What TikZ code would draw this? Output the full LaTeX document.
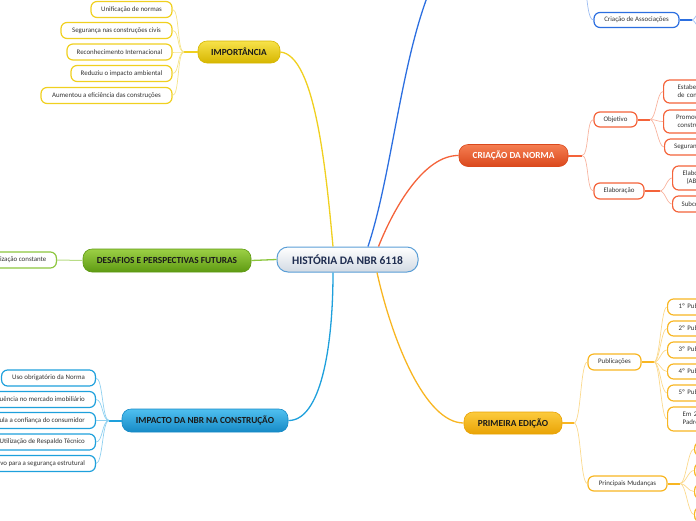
\documentclass[tikz,border=0pt]{standalone}
\usepackage{fontspec}
\setmainfont{Carlito}
\definecolor{yelm}{HTML}{F0D020}
\definecolor{yelt}{HTML}{F5E48A}
\definecolor{yeltop}{HTML}{F7E24A}
\definecolor{yelbot}{HTML}{D6B600}
\definecolor{ornm}{HTML}{F4633A}
\definecolor{ornt}{HTML}{F8B4A0}
\definecolor{orntop}{HTML}{F57E52}
\definecolor{ornbot}{HTML}{DA481C}
\definecolor{ambm}{HTML}{F8B622}
\definecolor{ambt}{HTML}{FBD98C}
\definecolor{ambtop}{HTML}{FCCB3E}
\definecolor{ambbot}{HTML}{E9A305}
\definecolor{grnm}{HTML}{8CC63E}
\definecolor{grnt}{HTML}{B8DC86}
\definecolor{grntop}{HTML}{9CD046}
\definecolor{grnbot}{HTML}{5E9A12}
\definecolor{impm}{HTML}{1EA0DC}
\definecolor{impt}{HTML}{8ED0F0}
\definecolor{imptop}{HTML}{50C0F0}
\definecolor{impbot}{HTML}{168AC6}
\definecolor{blum}{HTML}{2C6FE0}
\definecolor{blut}{HTML}{9DBDF2}
\definecolor{rootb}{HTML}{5A9ED6}
\definecolor{rootbot}{HTML}{D2DAE3}
\definecolor{roottxt}{HTML}{1F2D50}
\definecolor{leaftxt}{HTML}{333333}
\definecolor{toptxt}{HTML}{1A1A1A}
\tikzset{
  topic/.style={draw, rounded corners=9pt, line width=0.6pt, inner sep=0pt,
    minimum height=22pt, font=\fontsize{9.3}{11}\selectfont\bfseries, text=toptxt},
  leaf/.style={draw, fill=white, rounded corners=6pt, line width=1.2pt, inner xsep=0pt,
    inner ysep=0pt, minimum height=16pt, font=\fontsize{6.9}{8}\selectfont, text=leaftxt, align=center},
  cutleaf/.style={leaf, anchor=west, text width=90pt, align=left},
  stub/.style={line width=2pt},
  thin/.style={line width=0.7pt},
  mainline/.style={line width=1.3pt},
}
\begin{document}
\begin{tikzpicture}[x=1pt,y=-1pt]
\useasboundingbox (0,0) rectangle (696,520);
\clip (0,0) rectangle (696,520);

% ---------- root ----------
\node[draw=rootb, line width=1pt, rounded corners=11pt, top color=white, bottom color=rootbot,
  minimum width=141pt, minimum height=25pt, inner sep=0pt,
  font=\fontsize{11.5}{13}\selectfont\bfseries, text=roottxt] (root) at (347.5,259.5) {HISTÓRIA DA NBR 6118};

% ---------- topics ----------
\node[topic, draw=yelbot, top color=yeltop, bottom color=yelbot, minimum width=82pt] (imp) at (239,52) {IMPORTÂNCIA};
\node[topic, draw=ornbot, top color=orntop, bottom color=ornbot, minimum width=109pt, text=white] (cri) at (513.5,155.5) {CRIAÇÃO DA NORMA};
\node[topic, draw=ambbot, top color=ambtop, bottom color=ambbot, minimum width=98pt] (pri) at (513,423) {PRIMEIRA EDIÇÃO};
\node[topic, draw=grnbot, top color=grntop, bottom color=grnbot, minimum width=168pt, minimum height=23pt] (des) at (167,260.5) {DESAFIOS E PERSPECTIVAS FUTURAS};
\node[topic, draw=impbot, top color=imptop, bottom color=impbot, minimum width=166pt, minimum height=23pt] (ipc) at (205,420.5) {IMPACTO DA NBR NA CONSTRUÇÃO};
\coordinate (topblue) at (470,-70);

% ---------- main connectors ----------
\draw[mainline, yelm] (imp.east) .. controls (315,55) and (326,170) .. ([xshift=-14.5pt]root.north);
\draw[mainline, blum] ([xshift=20.5pt]root.north) .. controls (400,150) and (405,-20) .. (topblue);
\draw[mainline, ornm] ([xshift=31pt]root.north) .. controls (395,205) and (425,155) .. (cri.west);
\draw[mainline, ambm] ([xshift=29.5pt]root.south) .. controls (392,340) and (425,423) .. (pri.west);
\draw[mainline, impm] ([xshift=-14.5pt]root.south) .. controls (333,350) and (320,421) .. (ipc.east);
\draw[mainline, grnm] (root.west) -- (des.east);

% ---------- IMPORTANCIA leaves ----------
\node[leaf, draw=yelm, minimum width=81pt] (i1) at (131.5,9.5) {Unificação de normas};
\node[leaf, draw=yelm, minimum width=111pt] (i2) at (116.5,30.5) {Segurança nas construções civis};
\node[leaf, draw=yelm, minimum width=105pt] (i3) at (119.5,52) {Reconhecimento Internacional};
\node[leaf, draw=yelm, minimum width=101pt] (i4) at (121.5,73.5) {Reduziu o impacto ambiental};
\node[leaf, draw=yelm, minimum width=131pt] (i5) at (106.5,95.5) {Aumentou a eficiência das construções};
\coordinate (jimp) at (184,52);
\draw[stub, yelm] (imp.west) -- (jimp);
\foreach \c in {i1,i2,i3,i4,i5}
  \draw[thin, yelt] (jimp) .. controls +(-7,0) and +(7,0) .. (\c.east);

% ---------- DESAFIOS leaf ----------
\node[leaf, draw=grnm, anchor=east, inner xsep=10pt] (d1) at (57,260) {Atualização constante};
\draw[line width=1pt, grnt] (des.west) -- (d1.east);

% ---------- IMPACTO leaves ----------
\node[leaf, draw=impm, anchor=east, inner xsep=10.5pt] (p1) at (96,378) {Uso obrigatório da Norma};
\node[leaf, draw=impm, anchor=east, inner xsep=10.5pt] (p2) at (96,399.5) {Influência no mercado imobiliário};
\node[leaf, draw=impm, anchor=east, inner xsep=10.5pt] (p3) at (96,420.5) {Estimula a confiança do consumidor};
\node[leaf, draw=impm, anchor=east, inner xsep=10.5pt] (p4) at (96,442) {Maior Utilização de Respaldo Técnico};
\node[leaf, draw=impm, anchor=east, inner xsep=10.5pt] (p5) at (96,463.5) {Incentivo para a segurança estrutural};
\coordinate (jipc) at (109,420.5);
\draw[stub, impm] (ipc.west) -- (jipc);
\foreach \c in {p1,p2,p3,p4,p5}
  \draw[thin, impt] (jipc) .. controls +(-7,0) and +(7,0) .. (\c.east);

% ---------- CRIACAO subtree ----------
\node[leaf, draw=ornm, minimum width=43pt, minimum height=15pt] (obj) at (615.5,119.5) {Objetivo};
\node[leaf, draw=ornm, minimum width=50pt] (ela) at (619,191) {Elaboração};
\coordinate (jcri) at (582,155.5);
\draw[stub, ornm] (cri.east) -- (jcri);
\foreach \c in {obj,ela}
  \draw[thin, ornt] (jcri) .. controls +(7,0) and +(-7,0) .. (\c.west);

\node[cutleaf, draw=ornm, minimum height=23pt, inner xsep=14pt] (o1) at (663,91.5) {Estabelecer requisitos\\de construção};
\node[cutleaf, draw=ornm, minimum height=23pt, inner xsep=12.5pt] (o2) at (663,121.5) {Promover a segurança\\\hspace{1.5pt}construtiva};
\node[cutleaf, draw=ornm, inner xsep=9.5pt] (o3) at (664,147) {Segurança estrutural};
\coordinate (jobj) at (650,119.5);
\draw[stub, ornm] (obj.east) -- (jobj);
\foreach \c in {o1,o2,o3}
  \draw[thin, ornt] (jobj) .. controls +(6,0) and +(-6,0) .. (\c.west);

\node[cutleaf, draw=ornm, minimum height=24pt, inner xsep=10pt] (e1) at (672,178) {Elaborada pela Associação\\\hspace{4pt}(ABNT)};
\node[cutleaf, draw=ornm, inner xsep=9pt] (e2) at (672,204) {Subcomissão técnica};
\coordinate (jela) at (660,191);
\draw[stub, ornm] (ela.east) -- (jela);
\foreach \c in {e1,e2}
  \draw[thin, ornt] (jela) .. controls +(5,0) and +(-5,0) .. (\c.west);

% ---------- PRIMEIRA EDICAO subtree ----------
\node[leaf, draw=ambm, minimum width=53pt] (pub) at (614.5,362) {Publicações};
\node[leaf, draw=ambm, minimum width=79pt, minimum height=15pt] (mud) at (627.5,483.5) {Principais Mudanças};
\coordinate (jpri) at (574,423);
\draw[stub, ambm] (pri.east) -- (jpri);
\foreach \c in {pub,mud}
  \draw[thin, ambt] (jpri) .. controls +(7,0) and +(-7,0) .. (\c.west);

\node[cutleaf, draw=ambm, inner xsep=11pt] (u1) at (667,307) {1º Publicação em 1940};
\node[cutleaf, draw=ambm, inner xsep=11pt, minimum height=15pt] (u2) at (667,328.5) {2º Publicação em 1960};
\node[cutleaf, draw=ambm, inner xsep=11pt] (u3) at (667,350) {3º Publicação em 1978};
\node[cutleaf, draw=ambm, inner xsep=11pt, minimum height=15pt] (u4) at (667,371.5) {4º Publicação em 2003};
\node[cutleaf, draw=ambm, inner xsep=11pt] (u5) at (667,393) {5º Publicação em 2014};
\node[cutleaf, draw=ambm, inner xsep=15pt, minimum height=24pt] (u6) at (667,419) {Em 2023, nova\\Padronização};
\coordinate (jpub) at (654,362);
\draw[stub, ambm] (pub.east) -- (jpub);
\foreach \c in {u1,u2,u3,u4,u5,u6}
  \draw[thin, ambt] (jpub) .. controls +(6,0) and +(-6,0) .. (\c.west);

\node[cutleaf, draw=ambm, inner xsep=10pt, minimum height=14pt] (m1) at (694,449) {Mudança};
\node[cutleaf, draw=ambm, inner xsep=10pt, minimum height=15pt] (m2) at (694,470.5) {Mudança};
\node[cutleaf, draw=ambm, inner xsep=10pt, minimum height=15pt] (m3) at (694,491.5) {Mudança};
\node[cutleaf, draw=ambm, inner xsep=10pt, minimum height=15pt] (m4) at (694,514.5) {Mudança};
\coordinate (jmud) at (680,483.5);
\draw[stub, ambm] (mud.east) -- (jmud);
\foreach \c in {m1,m2,m3,m4}
  \draw[thin, ambt] (jmud) .. controls +(6,0) and +(-6,0) .. (\c.west);

% ---------- top blue subtree ----------
\node[leaf, draw=blum, minimum width=85pt, minimum height=15pt] (ass) at (636.5,20) {Criação de Associações};
\coordinate (jtop) at (575,-60);
\draw[thin, blut] (jtop) .. controls (588,-60) and (583,20) .. (ass.west);
\coordinate (jass) at (692,20);
\coordinate (ass1) at (712,-10);
\coordinate (ass2) at (712,50);
\draw[stub, blum] (ass.east) -- (jass);
\draw[thin, blut] (jass) .. controls +(5,0) and +(-5,0) .. (ass1);
\draw[thin, blut] (jass) .. controls +(5,0) and +(-5,0) .. (ass2);
\end{tikzpicture}
\end{document}
